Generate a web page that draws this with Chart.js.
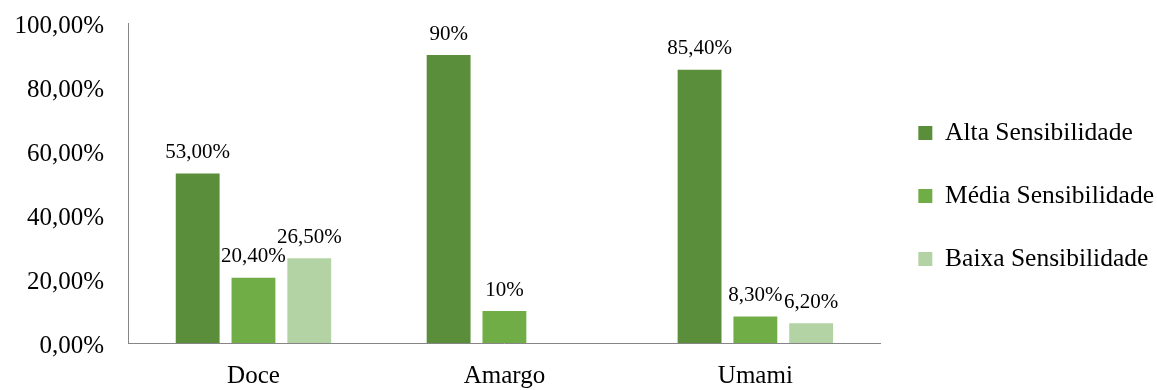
<!DOCTYPE html>
<html><head><meta charset="utf-8">
<script src="https://cdn.jsdelivr.net/npm/chart.js@4/dist/chart.umd.min.js"></script>
<style>html,body{margin:0;padding:0;background:#fff}#wrap{width:1157px;height:390px}</style>
</head><body><div id="wrap"><canvas id="c" width="1157" height="390"></canvas></div>
<script>
const categories = ['Doce', 'Amargo', 'Umami'];
const seriesNames = ['Alta Sensibilidade', 'Média Sensibilidade', 'Baixa Sensibilidade'];
const alta = [53.0, 90, 85.4];
const media = [20.4, 10, 8.3];
const baixa = [26.5, null, 6.2];
const altaLabels = ['53,00%', '90%', '85,40%'];
const mediaLabels = ['20,40%', '10%', '8,30%'];
const baixaLabels = ['26,50%', '', '6,20%'];
const yTicks = [0, 20, 40, 60, 80, 100];
const yTickLabels = ['0,00%', '20,00%', '40,00%', '60,00%', '80,00%', '100,00%'];

const colors = ['#5a8e3a', '#70ad47', '#b4d3a5'];
const FONT = "'Liberation Serif', 'Times New Roman', serif";

const valueLabels = {
  id: 'valueLabels',
  afterDatasetsDraw(chart) {
    const ctx = chart.ctx;
    ctx.save();
    ctx.font = "21px " + FONT;
    ctx.fillStyle = '#000';
    ctx.textAlign = 'center';
    ctx.textBaseline = 'alphabetic';
    chart.data.datasets.forEach((ds, di) => {
      const meta = chart.getDatasetMeta(di);
      meta.data.forEach((el, i) => {
        const v = ds.data[i];
        const txt = ds.valueText[i];
        if (v === null || v === undefined || !txt) return;
        ctx.fillText(txt, el.x, el.y - 15.5);
      });
    });
    ctx.restore();
  }
};

new Chart(document.getElementById('c'), {
  type: 'bar',
  data: {
    labels: categories,
    datasets: [
      { label: seriesNames[0], data: alta, valueText: altaLabels, backgroundColor: colors[0] },
      { label: seriesNames[1], data: media, valueText: mediaLabels, backgroundColor: colors[1] },
      { label: seriesNames[2], data: baixa, valueText: baixaLabels, backgroundColor: colors[2] }
    ]
  },
  options: {
    responsive: false,
    animation: false,
    devicePixelRatio: 1,
    layout: { padding: { top: 2, right: -7, bottom: 0, left: 0 } },
    datasets: { bar: { categoryPercentage: 0.667, barPercentage: 0.786 } },
    scales: {
      x: {
        grid: { display: false, drawTicks: false },
        border: { display: true, color: '#868686', width: 1 },
        ticks: { color: '#000', font: { family: FONT, size: 25 }, padding: 18 },
        afterFit(s) { s.height = 47; }
      },
      y: {
        min: 0, max: 100,
        grid: { display: false, drawTicks: false },
        border: { display: true, color: '#868686', width: 1 },
        ticks: {
          stepSize: 20,
          color: '#000',
          font: { family: FONT, size: 25 },
          padding: 24,
          labelOffset: 3,
          callback(v) { const k = yTicks.indexOf(v); return k >= 0 ? yTickLabels[k] : ''; }
        },
        afterFit(s) { s.width = 128; s.paddingTop = 23; s.paddingBottom = 0; }
      }
    },
    plugins: {
      legend: {
        position: 'right',
        align: 'center',
        labels: {
          boxWidth: 14, boxHeight: 14,
          color: '#000',
          font: { family: FONT, size: 25.5 },
          padding: 37.5
        }
      },
      tooltip: { enabled: false }
    }
  },
  plugins: [valueLabels]
});
</script></body></html>
